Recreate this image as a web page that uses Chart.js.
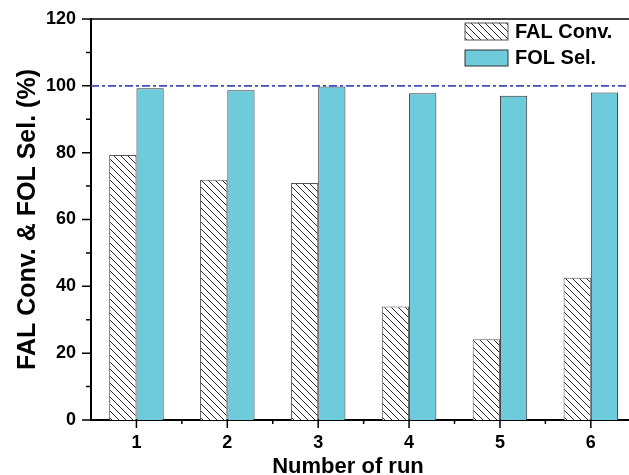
<html>
<head>
  <script src="https://cdn.jsdelivr.net/npm/chart.js"></script>
  <style>
    body { margin: 0; overflow: hidden; background: #fff; }
  </style>
</head>
<body>
  <canvas id="myChart" width="629" height="475"></canvas>
  <script>
    // values
    const runs = [1, 2, 3, 4, 5, 6];
    const falConv = [79.3, 71.9, 70.9, 34.0, 24.2, 42.6];
    const folSel = [99.3, 98.7, 99.8, 97.8, 97.0, 98.0];
    const yMajor = [0, 20, 40, 60, 80, 100, 120];
    const yMinor = [10, 30, 50, 70, 90, 110];
    const xMinor = [1.5, 2.5, 3.5, 4.5, 5.5];
    const refValue = 100;
    const seriesNames = ['FAL Conv.', 'FOL Sel.'];
    const xTitle = 'Number of run';

    const FONT = "'Liberation Sans', Arial, sans-serif";
    const cyan = '#6ecbdb';

    // hatch for the FAL bars
    const makeHatch = () => {
      var n = 7;
      var c = document.createElement('canvas');
      c.width = n; c.height = n;
      var g = c.getContext('2d');
      g.fillStyle = '#fff';
      g.fillRect(0, 0, n, n);
      g.strokeStyle = '#2a2a2a';
      g.lineWidth = 1;
      g.beginPath();
      g.moveTo(-1, -1); g.lineTo(n + 1, n + 1);
      g.moveTo(n - 1, -1); g.lineTo(n + 1, 1);
      g.moveTo(-1, n - 1); g.lineTo(1, n + 1);
      g.stroke();
      return document.getElementById('myChart').getContext('2d').createPattern(c, 'repeat');
    }
    const hatch = makeHatch();

    const decor = {
      id: 'decor',
      afterDatasetsDraw(chart) {
        var ctx = chart.ctx;
        var a = chart.chartArea;
        var x = chart.scales.x, y = chart.scales.y;
        ctx.save();

        // dash-dot reference line
        var yr = y.getPixelForValue(refValue);
        ctx.strokeStyle = '#3f4fbf';
        ctx.lineWidth = 1.6;
        ctx.setLineDash([8, 3, 3, 3]);
        ctx.beginPath();
        ctx.moveTo(a.left, yr); ctx.lineTo(a.right, yr);
        ctx.stroke();
        ctx.setLineDash([]);

        // top frame
        ctx.strokeStyle = '#000';
        ctx.lineWidth = 1.5;
        ctx.beginPath();
        ctx.moveTo(a.left, a.top); ctx.lineTo(a.right, a.top);
        ctx.stroke();

        // tick marks
        ctx.lineWidth = 1.5;
        ctx.beginPath();
        yMajor.forEach(v => { var p = y.getPixelForValue(v); ctx.moveTo(a.left - 9, p); ctx.lineTo(a.left, p); });
        yMinor.forEach(v => { var p = y.getPixelForValue(v); ctx.moveTo(a.left - 5, p); ctx.lineTo(a.left, p); });
        runs.forEach(v => { var p = x.getPixelForValue(v); ctx.moveTo(p, a.bottom); ctx.lineTo(p, a.bottom + 8); });
        xMinor.forEach(v => { var p = x.getPixelForValue(v); ctx.moveTo(p, a.bottom); ctx.lineTo(p, a.bottom + 4); });
        ctx.stroke();

        // x title, centred where the original puts it
        ctx.fillStyle = '#000';
        ctx.font = 'bold 22px ' + FONT;
        ctx.textBaseline = 'middle';
        ctx.textAlign = 'center';
        ctx.fillText(xTitle, a.left + 257, a.bottom + 47);

        // legend
        var lx = a.left + 374, ly = a.top + 4;
        ctx.fillStyle = hatch;
        ctx.fillRect(lx, ly, 43, 17);
        ctx.strokeStyle = '#555';
        ctx.lineWidth = 1;
        ctx.strokeRect(lx, ly, 43, 17);
        ctx.fillStyle = cyan;
        ctx.fillRect(lx, ly + 27, 43, 16);
        ctx.strokeStyle = '#333';
        ctx.strokeRect(lx, ly + 27, 43, 16);
        ctx.fillStyle = '#000';
        ctx.font = 'bold 20px ' + FONT;
        ctx.textAlign = 'left';
        ctx.fillText(seriesNames[0], lx + 50, ly + 9);
        ctx.fillText(seriesNames[1], lx + 50, ly + 35);
        ctx.restore();
      }
    };

    var ctx = document.getElementById('myChart').getContext('2d');
    var grafica = new Chart(ctx, {
      type: 'bar',
      data: {
        datasets: [{
          label: seriesNames[0],
          data: runs.map((r, i) => ({ x: r, y: falConv[i] })),
          backgroundColor: hatch,
          borderColor: '#555',
          borderWidth: 1,
        }, {
          label: seriesNames[1],
          data: runs.map((r, i) => ({ x: r, y: folSel[i] })),
          backgroundColor: cyan,
          borderColor: '#333',
          borderWidth: 1,
        }],
      },
      options: {
        responsive: false,
        animation: false,
        categoryPercentage: 0.6,
        barPercentage: 1.0,
        layout: { padding: { top: 19, right: 0, left: 0, bottom: 0 } },
        plugins: { legend: { display: false }, tooltip: { enabled: false } },
        scales: {
          x: {
            type: 'linear',
            min: 0.5,
            max: 6.42,
            offset: false,
            grid: { display: false, offset: false },
            border: { display: true, color: '#000', width: 2 },
            afterBuildTicks: s => { s.ticks = runs.map(v => ({ value: v })); },
            afterFit: s => { s.height = 55; },
            ticks: {
              color: '#000',
              padding: 4,
              font: { family: FONT, size: 18, weight: 'bold' },
              callback: v => String(v)
            }
          },
          y: {
            min: 0,
            max: 120,
            grid: { display: false },
            border: { display: true, color: '#000', width: 2 },
            afterBuildTicks: s => { s.ticks = yMajor.map(v => ({ value: v })); },
            afterFit: s => { s.width = 91; },
            ticks: {
              color: '#000',
              padding: 7,
              font: { family: FONT, size: 18, weight: 'bold' }
            },
            title: {
              display: true,
              text: 'FAL Conv. & FOL Sel. (%)',
              color: '#000',
              font: { family: FONT, size: 25, weight: 'bold', lineHeight: 1 },
              padding: { top: 16, bottom: 0 }
            }
          }
        }
      },
      plugins: [decor]
    });
  </script>
</body>
</html>
